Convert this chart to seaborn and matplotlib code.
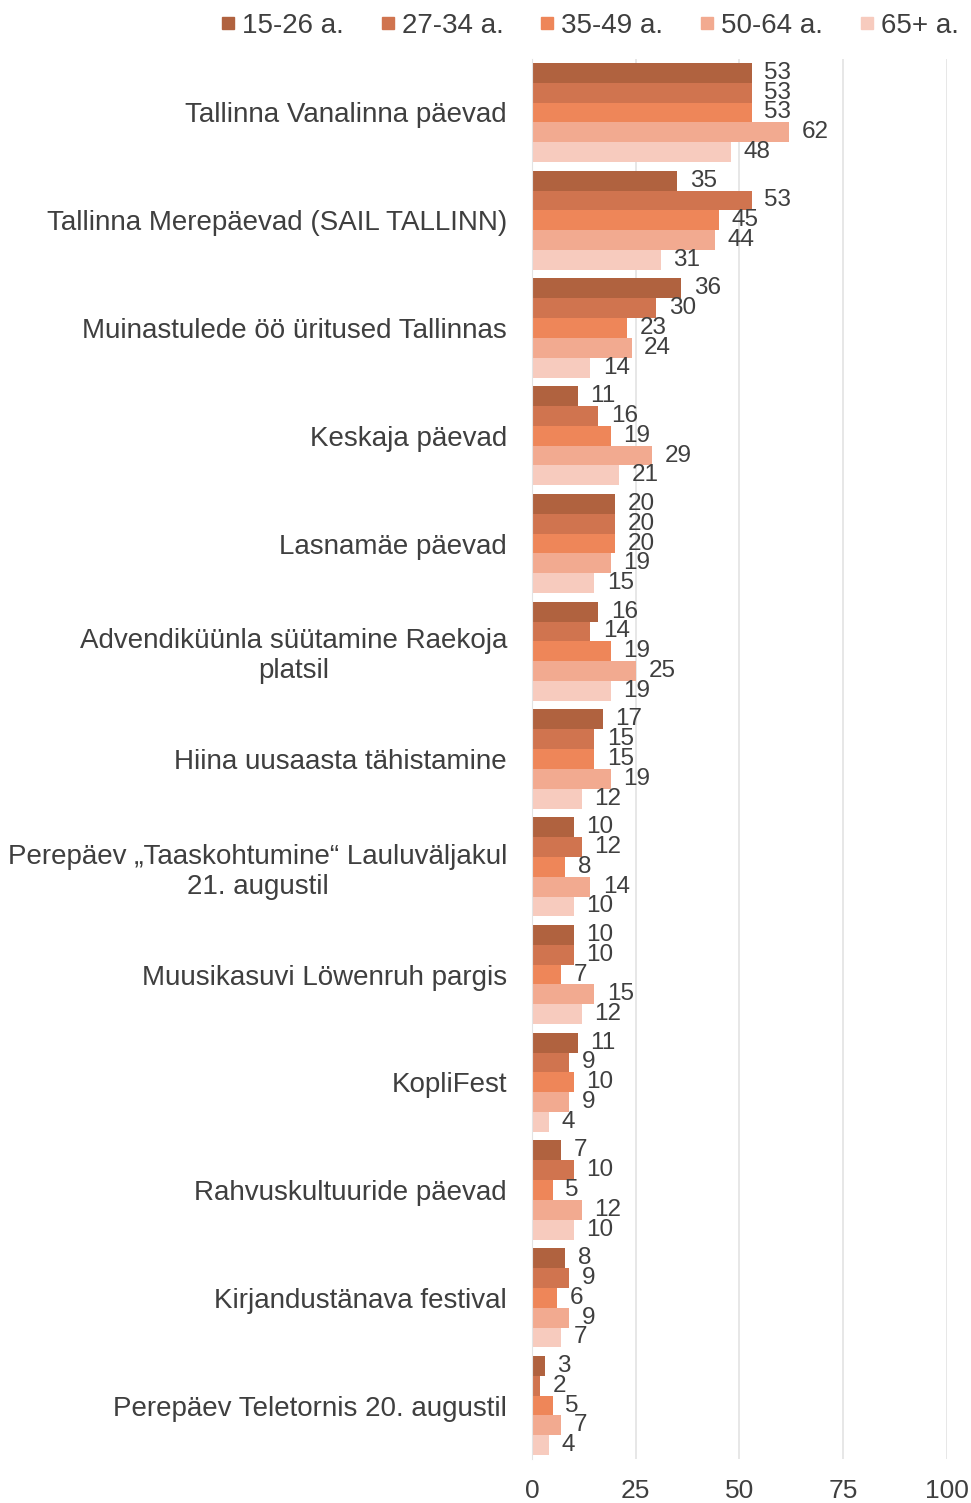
import numpy as np
import pandas as pd
from matplotlib import pyplot as plt
import seaborn as sns

events = ['Tallinna Vanalinna päevad',
          'Tallinna Merepäevad (SAIL TALLINN)',
          'Muinastulede öö üritused Tallinnas',
          'Keskaja päevad',
          'Lasnamäe päevad',
          'Advendiküünla süütamine Raekoja\nplatsil',
          'Hiina uusaasta tähistamine',
          'Perepäev „Taaskohtumine“ Lauluväljakul\n21. augustil',
          'Muusikasuvi Löwenruh pargis',
          'KopliFest',
          'Rahvuskultuuride päevad',
          'Kirjandustänava festival',
          'Perepäev Teletornis 20. augustil']
age_groups = ['15-26 a.', '27-34 a.', '35-49 a.', '50-64 a.', '65+ a.']

age_15_26 = [53, 35, 36, 11, 20, 16, 17, 10, 10, 11, 7, 8, 3]
age_27_34 = [53, 53, 30, 16, 20, 14, 15, 12, 10, 9, 10, 9, 2]
age_35_49 = [53, 45, 23, 19, 20, 19, 15, 8, 7, 10, 5, 6, 5]
age_50_64 = [62, 44, 24, 29, 19, 25, 19, 14, 15, 9, 12, 9, 7]
age_65 = [48, 31, 14, 21, 15, 19, 12, 10, 12, 4, 10, 7, 4]

colors = ['#B0623F', '#D0744F', '#EE8659', '#F2AA90', '#F7CBBE']
text_color = '#3F3F3F'

df = pd.DataFrame({'event': events,
                   '15-26 a.': age_15_26,
                   '27-34 a.': age_27_34,
                   '35-49 a.': age_35_49,
                   '50-64 a.': age_50_64,
                   '65+ a.': age_65})
df_melt = df.melt(id_vars='event', var_name='age', value_name='value')

sns.set_style('white')
plt.rcParams['font.family'] = ['Liberation Sans', 'DejaVu Sans']

fig = plt.figure(figsize=(9.71, 15.03), dpi=100)
ax = fig.add_axes([0.548, 0.029, 0.427, 0.932])

sns.barplot(data=df_melt, y='event', x='value', hue='age', orient='h',
            order=events, hue_order=age_groups, palette=colors,
            width=0.92, saturation=1, linewidth=0, ax=ax, legend=False)

for container in ax.containers:
    ax.bar_label(container, fmt='%d', padding=9, fontsize=17.5, color=text_color)

ax.set_xlim(0, 100)
ax.set_xticks([0, 25, 50, 75, 100])
ax.xaxis.grid(True, color='#E3E3E3', linewidth=1.2)
ax.set_axisbelow(True)
for s in ['top', 'right', 'bottom']:
    ax.spines[s].set_visible(False)
ax.spines['left'].set_color('#E3E3E3')
ax.set_xlabel('')
ax.set_ylabel('')
ax.tick_params(axis='x', labelsize=19, labelcolor=text_color, length=0, pad=14)
ax.tick_params(axis='y', labelsize=20, labelcolor=text_color, length=0, pad=18)
for lbl in ax.get_yticklabels():
    lbl.set_multialignment('center')

handles = [plt.Line2D([], [], marker='s', linestyle='', markersize=9,
                      color=c) for c in colors]
fig.legend(handles, age_groups, loc='upper center', bbox_to_anchor=(0.601, 1.008),
           ncol=5, frameon=False, fontsize=20, handletextpad=-0.2,
           handlelength=1.4, columnspacing=0.88, labelcolor=text_color)

plt.savefig('out.png', dpi=100)
